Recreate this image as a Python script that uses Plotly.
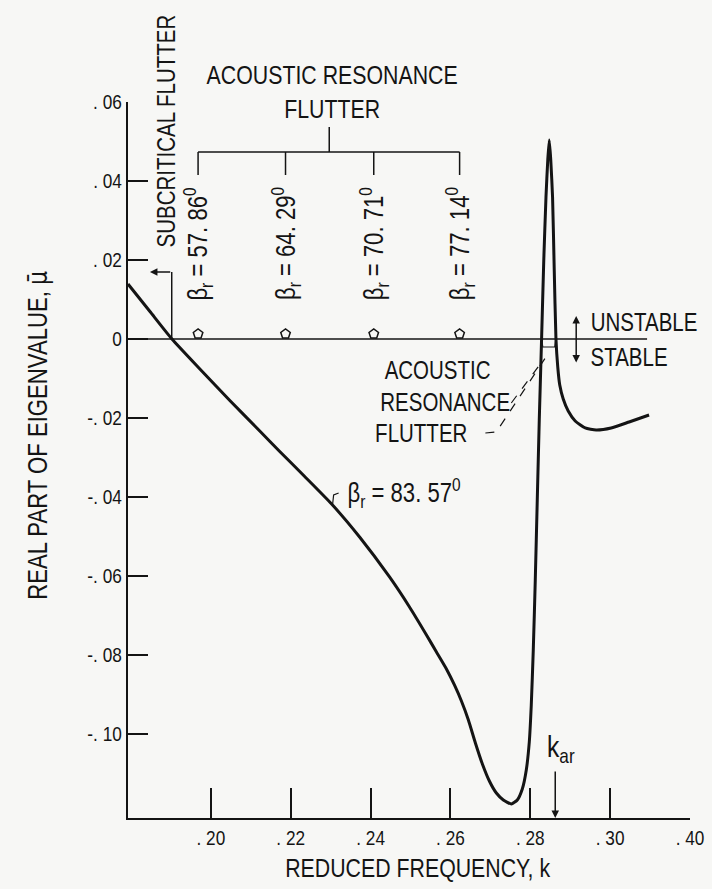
import plotly.graph_objects as go

# ---------------- data ----------------
k_curve = [0.17925, 0.18475, 0.19025, 0.19725, 0.20475, 0.21225, 0.21725, 0.22350, 0.23025, 0.23725,
           0.24475, 0.24975, 0.25400, 0.25650, 0.25900, 0.26100, 0.26275, 0.26450, 0.26625, 0.26800,
           0.26975, 0.27150, 0.27325, 0.27525, 0.27675, 0.27800, 0.27900, 0.27975, 0.28025, 0.28075,
           0.28125, 0.28175, 0.28225, 0.28283, 0.28338, 0.28393, 0.28438, 0.28475, 0.28513, 0.28558,
           0.28600, 0.28643, 0.28688, 0.28738, 0.28825, 0.28950, 0.29125, 0.29375, 0.29650, 0.30025,
           0.30475, 0.30975]
mu_curve = [0.01392, 0.00696, 0.0, -0.00759, -0.01557, -0.02329, -0.02848, -0.03481, -0.04177, -0.05013,
            -0.06025, -0.06785, -0.07494, -0.07924, -0.08354, -0.08759, -0.09165, -0.09646, -0.10228, -0.10759,
            -0.11190, -0.11494, -0.11671, -0.11772, -0.11671, -0.11392, -0.10911, -0.10203, -0.09266, -0.07873,
            -0.06101, -0.04076, -0.02051, 0.0, 0.02000, 0.03595, 0.04532, 0.05038, 0.04532, 0.03595,
            0.01747, 0.0, -0.00709, -0.01165, -0.01519, -0.01823, -0.02076, -0.02253, -0.02304, -0.02253,
            -0.02101, -0.01924]

beta_k = [0.1968, 0.2187, 0.2408, 0.2623]
beta_labels = ["57. 86", "64. 29", "70. 71", "77. 14"]
beta_main = "83. 57"
k_subcrit = 0.1902
k_ar = 0.28625

xtick_vals = [0.20, 0.22, 0.24, 0.26, 0.28, 0.30, 0.32]
xtick_text = [". 20", ". 22", ". 24", ". 26", ". 28", ". 30", ". 40"]
ytick_vals = [0.06, 0.04, 0.02, 0.0, -0.02, -0.04, -0.06, -0.08, -0.10]
ytick_text = [". 06", ". 04", ". 02", "0", "-. 02", "-. 04", "-. 06", "-. 08", "-. 10"]

XR = [0.17925, 0.32]
YR = [-0.12127, 0.06]

# ---------------- style ----------------
FONT = "Liberation Sans, Arial, sans-serif"
INK = "#141414"
BG = "#f7f7f5"
W, H = 712, 889
ML, MR, MT, MB = 128, 22, 102, 71
PW, PH = W - ML - MR, H - MT - MB


def X(px):
    return 0.20 + (px - 211) / 4000.0


def Y(py):
    return (339 - py) / 3950.0


def PX(px):
    return (px - ML) / PW


def PY(py):
    return (H - MB - py) / PH


fig = go.Figure()
fig.add_trace(go.Scatter(x=k_curve, y=mu_curve, mode="lines",
                         line=dict(color=INK, width=3, shape="spline", smoothing=0.5),
                         hoverinfo="skip", showlegend=False))
fig.add_trace(go.Scatter(x=beta_k, y=[Y(334)] * len(beta_k), mode="markers",
                         marker=dict(symbol="pentagon-open", size=10, color=INK,
                                     line=dict(width=1.5, color=INK)),
                         hoverinfo="skip", showlegend=False))

shapes = []
shapes.append(dict(type="line", xref="x", yref="y", x0=XR[0], x1=X(648), y0=0, y1=0,
                   line=dict(color=INK, width=1.5)))
shapes.append(dict(type="line", xref="x", yref="y", x0=k_subcrit, x1=k_subcrit,
                   y0=0, y1=Y(272), line=dict(color=INK, width=1.5)))
yb_top, yb_bot = Y(152), Y(175)
kmid = sum(beta_k) / len(beta_k)
shapes.append(dict(type="line", xref="x", yref="y", x0=beta_k[0], x1=beta_k[-1],
                   y0=yb_top, y1=yb_top, line=dict(color=INK, width=1.5)))
shapes.append(dict(type="line", xref="x", yref="y", x0=kmid, x1=kmid,
                   y0=yb_top, y1=Y(127), line=dict(color=INK, width=1.5)))
for bk in beta_k:
    shapes.append(dict(type="line", xref="x", yref="y", x0=bk, x1=bk,
                       y0=yb_top, y1=yb_bot, line=dict(color=INK, width=1.5)))
shapes.append(dict(type="path", xref="x", yref="y",
                   path=f"M {X(512)},{Y(403)} L {X(541)},{Y(364)}",
                   line=dict(color=INK, width=1.2, dash="dash")))
shapes.append(dict(type="path", xref="x", yref="y",
                   path=f"M {X(486)},{Y(433)} L {X(497)},{Y(432)} L {X(548)},{Y(355)}",
                   line=dict(color=INK, width=1.2, dash="dash")))
shapes.append(dict(type="path", xref="x", yref="y",
                   path=f"M {X(542.5)},{Y(339)} L {X(543.5)},{Y(347)} L {X(555.5)},{Y(347)} L {X(556.5)},{Y(339)}",
                   line=dict(color=INK, width=1.2)))
shapes.append(dict(type="path", xref="x", yref="y",
                   path=f"M {X(333)},{Y(504)} L {X(334)},{Y(495)} L {X(339)},{Y(493)}",
                   line=dict(color=INK, width=1.2)))

ann = []


def T(text, cx, cy, size=25, angle=0):
    ann.append(dict(x=PX(cx), y=PY(cy), xref="paper", yref="paper", text=text,
                    textangle=angle, showarrow=False, xanchor="center", yanchor="middle",
                    font=dict(family=FONT, size=size, color=INK)))


T("ACOUSTIC RESONANCE<br>FLUTTER", 332, 92, 26)
T("SUBCRITICAL FLUTTER", 166, 131, 25, -90)
for bk, lab in zip(beta_k, beta_labels):
    ann.append(dict(x=bk, y=PY(244), xref="x", yref="paper",
                    xanchor="center", yanchor="middle",
                    text=f"β<sub>r</sub> = {lab}<sup>0</sup>", textangle=-90,
                    showarrow=False, font=dict(family=FONT, size=27, color=INK)))
T(f"β<sub>r</sub> = {beta_main}<sup>0</sup>", 404, 493, 27)
T("UNSTABLE", 644, 322, 25)
T("STABLE", 629, 357, 25)
T("ACOUSTIC", 437, 370, 25)
T("RESONANCE", 445, 402, 25)
T("FLUTTER", 421, 433, 25)
T("k<sub>ar</sub>", 561, 748, 30)
T("REDUCED FREQUENCY, k", 418, 868, 26)
T("REAL PART OF EIGENVALUE, <span style=\"font-family:'DejaVu Sans'\">μ̄</span>", 37, 436, 27, -90)

ann.append(dict(x=X(150), y=Y(272), ax=k_subcrit, ay=Y(272), xref="x", yref="y",
                axref="x", ayref="y", text="", showarrow=True, arrowhead=2,
                arrowsize=1, arrowwidth=1.5, arrowcolor=INK))
ann.append(dict(x=X(577), y=Y(316), ax=X(577), ay=Y(364), xref="x", yref="y",
                axref="x", ayref="y", text="", showarrow=True, arrowhead=2,
                arrowside="end+start", arrowsize=1, arrowwidth=1.5, arrowcolor=INK))
ann.append(dict(x=k_ar, y=YR[0], ax=k_ar, ay=Y(770), xref="x", yref="y",
                axref="x", ayref="y", text="", showarrow=True, arrowhead=2,
                arrowsize=1, arrowwidth=1.5, arrowcolor=INK))

fig.update_layout(
    width=W, height=H,
    margin=dict(l=ML, r=MR, t=MT, b=MB, autoexpand=False),
    paper_bgcolor=BG, plot_bgcolor=BG,
    font=dict(family=FONT, size=21, color=INK),
    shapes=shapes, annotations=ann, showlegend=False,
)
fig.update_xaxes(range=XR, tickvals=xtick_vals, ticktext=xtick_text, automargin=False,
                 showline=True, linecolor=INK, linewidth=2, ticks="inside",
                 ticklen=30, tickwidth=2, tickcolor=INK, showgrid=False, zeroline=False,
                 tickfont=dict(family=FONT, size=21, color=INK))
fig.update_yaxes(range=YR, tickvals=ytick_vals, ticktext=ytick_text, automargin=False,
                 showline=True, linecolor=INK, linewidth=2, ticks="inside",
                 ticklen=20, tickwidth=2, tickcolor=INK, showgrid=False, zeroline=False,
                 tickfont=dict(family=FONT, size=21, color=INK))

# page without default body margin, and a narrow (condensed) look for all text
POST = """
document.body.style.margin = '0';
document.body.style.padding = '0';
document.body.style.background = '#f7f7f5';
var gd = document.getElementById('{plot_id}');
function condense(){
  gd.querySelectorAll('text').forEach(function(t){
    var tr = t.getAttribute('transform') || '';
    if (tr.indexOf('scale(0.82') >= 0) return;
    var bb;
    try { bb = t.getBBox(); } catch (e) { return; }
    if (!bb || !bb.width) return;
    var anc = t.getAttribute('text-anchor') || window.getComputedStyle(t).textAnchor || 'start';
    var x = bb.x + bb.width / 2;
    if (anc === 'end') x = bb.x + bb.width;
    else if (anc === 'start') x = bb.x;
    t.setAttribute('transform', tr + ' translate(' + x + ',0) scale(0.82,1) translate(' + (-x) + ',0)');
  });
}
condense();
gd.on('plotly_afterplot', condense);
"""

fig.write_html("out.html", post_script=POST, config={"displayModeBar": False})
